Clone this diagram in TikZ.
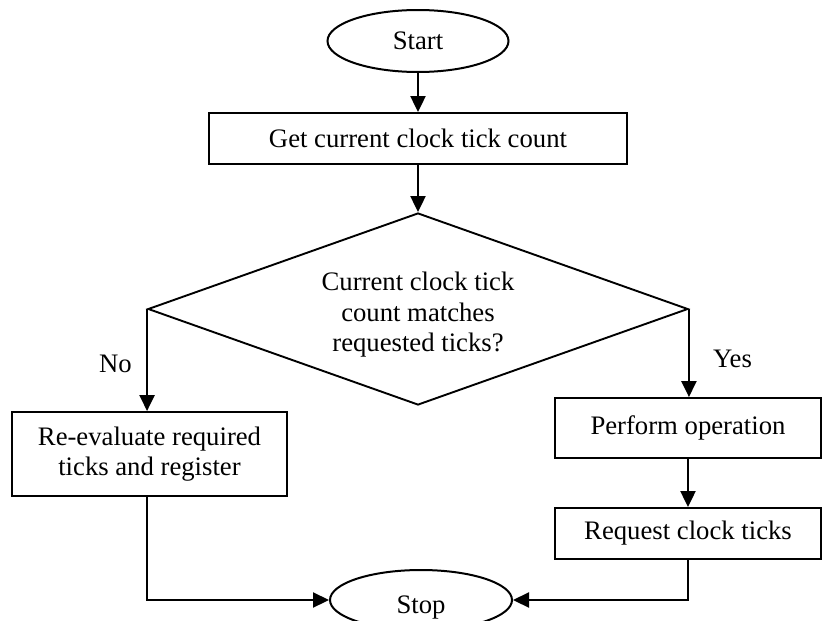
\documentclass[tikz,border=0pt]{standalone}
\usepackage{fontspec}
\setmainfont{Liberation Serif}
\usetikzlibrary{shapes.geometric,arrows.meta}

\begin{document}
\begin{tikzpicture}[x=1pt,y=-1pt,
  every node/.style={font=\fontsize{26.7}{30.5}\selectfont, inner sep=0pt},
  terminal/.style={draw, ellipse, line width=2pt},
  procbox/.style={draw, rectangle, line width=1.9pt, align=center},
  decision/.style={draw, diamond, line width=1.9pt, aspect=2.8},
  flow/.style={line width=2.2pt, -{Triangle[width=15pt,length=16pt]}},
  branchlabel/.style={anchor=base}
]
\useasboundingbox (0,0) rectangle (822,621);

% shapes
\node[terminal, minimum width=181pt, minimum height=62pt] (start) at (418,41) {Start};
\node[procbox, minimum width=418pt, minimum height=51pt] (get) at (418,138.5) {Get current clock tick count};
\node[decision, minimum width=540pt, minimum height=192pt] (dec) at (418,309) {};
\node[align=center] (dectext) at (418,315) {Current clock tick\\count matches\\requested ticks?};
\node[procbox, minimum width=275pt, minimum height=84pt] (reeval) at (149.5,454) {Re-evaluate required\\ticks and register};
\node[procbox, minimum width=266pt, minimum height=60pt] (perform) at (688,428) {Perform operation};
\node[procbox, minimum width=266pt, minimum height=51pt] (request) at (688,533.5) {Request clock ticks};
\node[terminal, minimum width=182pt, minimum height=60pt] (stop) at (421,600) {};
\node[anchor=base] (stoptext) at (421,613) {Stop};

% branch labels
\node[branchlabel] (nolabel) at (115.5,372) {No};
\node[branchlabel] (yeslabel) at (732.5,367) {Yes};

% connectors
\draw[flow] (start.south) -- (get.north);
\draw[flow] (get.south) -- (dec.north);
\draw[flow] (dec.west) -- (dec.west |- reeval.north);
\draw[flow] (dec.east) -- (dec.east |- perform.north);
\draw[flow] (perform.south) -- (request.north);
\draw[flow] (dec.west |- reeval.south) -- (dec.west |- stop.west) -- (stop.west);
\draw[flow] (request.south) -- (request.south |- stop.east) -- (stop.east);
\end{tikzpicture}
\end{document}
